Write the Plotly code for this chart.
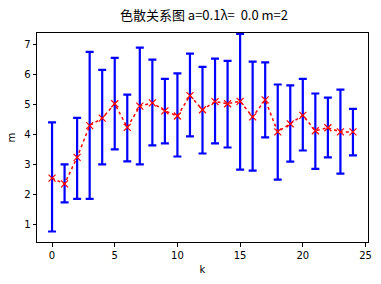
import plotly.graph_objects as go

k = list(range(25))
m_mean = [2.53, 2.34, 3.22, 4.28, 4.53, 5.01, 4.22, 4.93, 5.04, 4.77,
          4.60, 5.28, 4.81, 5.08, 5.01, 5.09, 4.57, 5.14, 4.07, 4.34,
          4.62, 4.11, 4.21, 4.07, 4.07]
m_upper = [4.39, 2.99, 4.54, 6.74, 6.14, 6.54, 5.31, 6.88, 6.48, 5.84,
           6.02, 6.68, 6.24, 6.51, 6.44, 7.34, 6.41, 6.39, 5.65, 5.62,
           5.84, 5.35, 5.21, 5.48, 4.84]
m_lower = [0.75, 1.72, 1.84, 1.84, 2.99, 3.49, 3.09, 2.99, 3.62, 3.69,
           3.25, 3.92, 3.35, 3.69, 3.55, 2.81, 2.78, 3.89, 2.48, 3.08,
           3.45, 2.84, 3.22, 2.68, 3.29]
x_ticks = [0, 5, 10, 15, 20, 25]
y_ticks = [1, 2, 3, 4, 5, 6, 7]
title_text = "色散关系图 a=0.1λ=\u00a0 0.0 m=2"

err_plus = [u - c for u, c in zip(m_upper, m_mean)]
err_minus = [c - l for c, l in zip(m_mean, m_lower)]

fig = go.Figure()
fig.add_trace(go.Scatter(
    x=k, y=m_mean, mode="markers",
    marker=dict(size=1, opacity=0),
    error_y=dict(type="data", symmetric=False, array=err_plus, arrayminus=err_minus,
                 color="#0000ff", thickness=2.2, width=4),
    showlegend=False, hoverinfo="skip",
))
fig.add_trace(go.Scatter(
    x=k, y=m_mean, mode="lines+markers",
    line=dict(color="red", width=1.5, dash="dot"),
    marker=dict(symbol="x-thin", size=7, line=dict(color="red", width=1.2), color="red"),
    showlegend=False,
))

axis_common = dict(
    showline=True, mirror=True, linecolor="black", linewidth=1,
    ticks="outside", ticklen=3.5, tickwidth=1, tickcolor="black",
    showgrid=False, zeroline=False,
    tickfont=dict(family="DejaVu Sans", size=10, color="black"),
)

fig.update_layout(
    width=381, height=284,
    margin=dict(l=36.5, r=9.5, t=33.3, b=41.7),
    paper_bgcolor="white", plot_bgcolor="white",
    font=dict(color="black"),
    title=dict(text=title_text, x=(36.5 + 371.5) / 2 / 381, xanchor="center",
               y=1 - 15 / 284, yanchor="middle",
               font=dict(family="Noto Sans CJK SC, DejaVu Sans", size=13, color="black")),
    xaxis=dict(range=[-1.2, 25.2], tickvals=x_ticks,
               title=dict(text="k", font=dict(family="DejaVu Sans", size=10, color="black"), standoff=6),
               **axis_common),
    yaxis=dict(range=[0.4, 7.367], tickvals=y_ticks,
               title=dict(text="m", font=dict(family="DejaVu Sans", size=10, color="black"), standoff=6),
               **axis_common),
)

fig.write_html("out.html")
